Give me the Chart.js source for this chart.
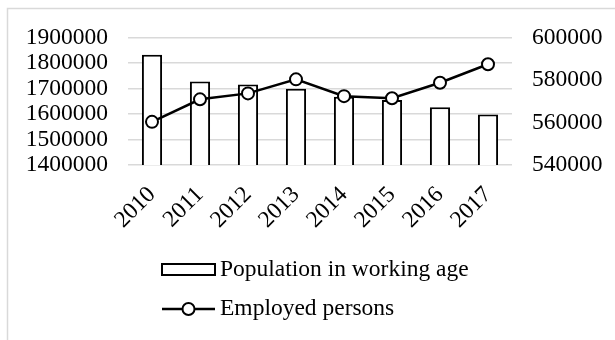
<!DOCTYPE html>
<html>
<head>
<meta charset="utf-8">
<script src="https://cdn.jsdelivr.net/npm/chart.js@4"></script>
<style>
  body { margin: 0; background: #fff; }
  #wrap { position: relative; width: 615px; height: 340px; }
</style>
</head>
<body>
<div id="wrap"><canvas id="chart"></canvas></div>
<script>
// dados
const years = ['2010', '2011', '2012', '2013', '2014', '2015', '2016', '2017'];
const workingAge = [1832000, 1727000, 1716000, 1699000, 1668000, 1655000, 1626000, 1598000];
const employed = [560300, 570900, 573700, 580300, 572400, 571400, 578700, 587400];
const leftTicks = [1400000, 1500000, 1600000, 1700000, 1800000, 1900000];
const rightTicks = [540000, 560000, 580000, 600000];

const FONT = "'Liberation Serif', 'Times New Roman', serif";
const FSIZE = 23.5;
Chart.defaults.font.family = FONT;
Chart.defaults.font.size = FSIZE;
Chart.defaults.color = '#000';

// moldura cinza + legenda vertical desenhada à mão
const frameLegend = {
  id: 'frameLegend',
  beforeDraw(chart) {
    const c = chart.ctx;
    c.save();
    c.strokeStyle = '#d9d9d9';
    c.lineWidth = 1.5;
    c.strokeRect(7.5, 8.5, 640, 360);
    c.restore();
  },
  afterDraw(chart) {
    const c = chart.ctx;
    const ds = chart.data.datasets;
    c.save();
    c.font = FSIZE + 'px ' + FONT;
    c.textBaseline = 'middle';
    // item 1 - barras
    c.lineWidth = 2;
    c.strokeStyle = '#000';
    c.fillStyle = '#fff';
    c.fillRect(162, 264, 53, 11);
    c.strokeRect(162, 264, 53, 11);
    c.fillStyle = '#000';
    c.fillText(ds[0].label, 220, 270);
    // item 2 - linha
    c.lineWidth = 2.5;
    c.beginPath();
    c.moveTo(162, 309);
    c.lineTo(215, 309);
    c.stroke();
    c.beginPath();
    c.arc(188.5, 309, 6, 0, Math.PI * 2);
    c.fillStyle = '#fff';
    c.fill();
    c.lineWidth = 2;
    c.stroke();
    c.fillStyle = '#000';
    c.fillText(ds[1].label, 220, 309);
    c.restore();
  }
};

const plain = v => String(v);

const ctx = document.getElementById('chart').getContext('2d');
new Chart(ctx, {
  type: 'bar',
  data: {
    labels: years,
    datasets: [
      {
        type: 'bar',
        label: 'Population in working age',
        data: workingAge,
        yAxisID: 'y',
        backgroundColor: '#fff',
        borderColor: '#000',
        borderWidth: 2,
        barPercentage: 0.42,
        categoryPercentage: 1,
        order: 2
      },
      {
        type: 'line',
        label: 'Employed persons',
        data: employed,
        yAxisID: 'y1',
        borderColor: '#000',
        borderWidth: 2.5,
        pointRadius: 6,
        pointBorderWidth: 2,
        pointBackgroundColor: '#fff',
        pointBorderColor: '#000',
        tension: 0,
        order: 1
      }
    ]
  },
  options: {
    responsive: true,
    maintainAspectRatio: false,
    animation: false,
    layout: { padding: { top: 37.5, left: 0, right: 0, bottom: 0 } },
    plugins: {
      legend: { display: false },
      tooltip: { enabled: false }
    },
    scales: {
      x: {
        grid: { display: false },
        border: { display: false },
        ticks: { minRotation: 45, maxRotation: 45, padding: 8, autoSkip: false },
        afterFit(s) { s.height = 175; }
      },
      y: {
        position: 'left',
        min: 1400000,
        max: 1900000,
        afterBuildTicks(s) { s.ticks = leftTicks.map(v => ({ value: v })); },
        grid: { color: '#d9d9d9', lineWidth: 1.5, drawTicks: false },
        border: { display: false },
        ticks: { padding: 20, autoSkip: false, callback: plain },
        afterFit(s) { s.width = 128; }
      },
      y1: {
        position: 'right',
        min: 540000,
        max: 600000,
        afterBuildTicks(s) { s.ticks = rightTicks.map(v => ({ value: v })); },
        grid: { display: false, drawTicks: false },
        border: { display: false },
        ticks: { padding: 20, autoSkip: false, callback: plain },
        afterFit(s) { s.width = 103; }
      }
    }
  },
  plugins: [frameLegend]
});
</script>
</body>
</html>
